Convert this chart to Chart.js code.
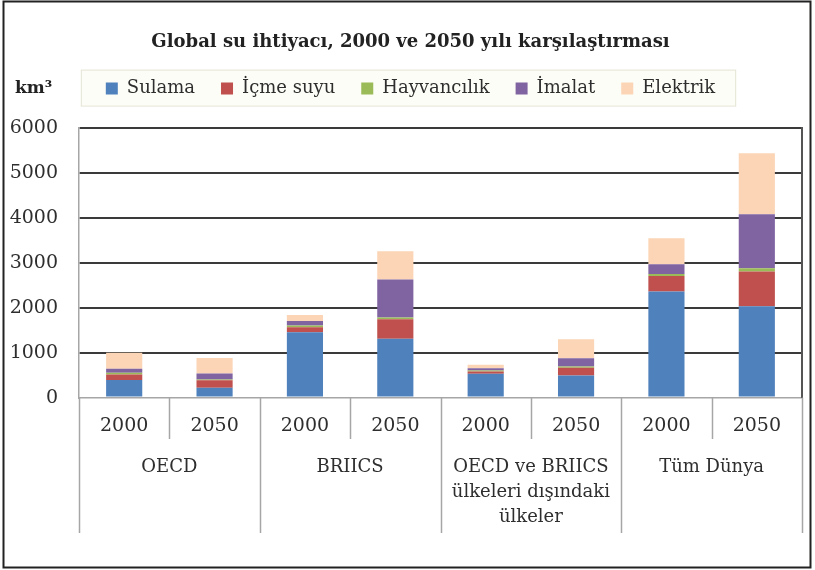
<!DOCTYPE html>
<html>
<head>
<meta charset="utf-8">
<script src="https://cdn.jsdelivr.net/npm/chart.js@4"></script>
<style>
  html, body { margin: 0; padding: 0; background: #fff; }
  #chart_div { display: block; }
</style>
</head>
<body>
<canvas id="chart_div" width="815" height="570"></canvas>
<script>
// categories
var years = ['2000', '2050', '2000', '2050', '2000', '2050', '2000', '2050'];
var groups = ['OECD', 'BRIICS', ['OECD ve BRIICS', 'ülkeleri dışındaki', 'ülkeler'], 'Tüm Dünya'];

// km3
var sulama      = [390, 220, 1450, 1310, 530, 490, 2360, 2030];
var icmeSuyu    = [125, 165, 115, 430, 50, 175, 345, 770];
var hayvancilik = [35, 20, 35, 40, 25, 25, 40, 75];
var imalat      = [90, 133, 105, 845, 50, 185, 220, 1200];
var elektrik    = [355, 340, 130, 630, 75, 420, 575, 1355];

var yTicks = [0, 1000, 2000, 3000, 4000, 5000, 6000];

var serif = 'DejaVu Serif';
var textColor = '#2e2e2e';
var sepColor = '#a6a6a6';

// frame, legend box, km3 label and the category separators
var decorations = {
    id: 'decorations',
    beforeDraw: (chart) => {
        var ctx = chart.ctx,
            boxes = chart.legend.legendHitBoxes,
            first = boxes[0],
            last = boxes[boxes.length - 1],
            mid = first.top + first.height / 2;

        ctx.save();
        ctx.fillStyle = '#fdfdf7';
        ctx.strokeStyle = '#e4e4d4';
        ctx.lineWidth = 1;
        var l = first.left - 25, r = last.left + last.width + 20;
        ctx.fillRect(l, mid - 19, r - l, 36);
        ctx.strokeRect(l + 0.5, mid - 18.5, r - l, 36);

        ctx.fillStyle = '#222';
        ctx.font = 'bold 17px "' + serif + '"';
        ctx.textBaseline = 'middle';
        ctx.textAlign = 'left';
        ctx.fillText('km³', 15, mid);
        ctx.restore();
    },
    afterDraw: (chart) => {
        var ctx = chart.ctx,
            xs = chart.scales.x,
            top = chart.chartArea.bottom,
            step = (xs.right - xs.left) / years.length;

        ctx.save();
        ctx.strokeStyle = sepColor;
        ctx.lineWidth = 1.5;
        for (var i = 0; i <= years.length; i++) {
            var px = Math.round(xs.left + i * step) + 0.5;
            ctx.beginPath();
            ctx.moveTo(px, top);
            ctx.lineTo(px, i % 2 === 0 ? 533 : 439);
            ctx.stroke();
        }

        ctx.strokeStyle = '#222';
        ctx.lineWidth = 2;
        ctx.strokeRect(3.5, 1.5, 807, 566);
        ctx.restore();
    }
};

function makeSet(label, data, color) {
    return {
        label: label,
        data: data,
        xAxisID: 'x',
        yAxisID: 'y',
        backgroundColor: color,
        borderWidth: 0,
        categoryPercentage: 0.8,
        barPercentage: 0.5
    };
}

new Chart(document.getElementById('chart_div'), {
    type: 'bar',
    data: {
        labels: years,
        datasets: [
            makeSet('Sulama', sulama, '#4f81bd'),
            makeSet('İçme suyu', icmeSuyu, '#c0504d'),
            makeSet('Hayvancılık', hayvancilik, '#9bbb59'),
            makeSet('İmalat', imalat, '#8064a2'),
            makeSet('Elektrik', elektrik, '#fbd5b5')
        ]
    },
    options: {
        responsive: false,
        devicePixelRatio: 1,
        animation: false,
        layout: { padding: { left: 7, right: 1, top: 0, bottom: 40 } },
        plugins: {
            title: {
                display: true,
                text: 'Global su ihtiyacı, 2000 ve 2050 yılı karşılaştırması',
                color: '#222',
                font: { family: serif, size: 18, weight: 'bold' },
                padding: { top: 32, bottom: 0 }
            },
            legend: {
                position: 'top',
                labels: {
                    boxWidth: 12,
                    boxHeight: 12,
                    padding: 26,
                    color: textColor,
                    font: { family: serif, size: 18 }
                }
            },
            tooltip: { enabled: false }
        },
        scales: {
            x: {
                stacked: true,
                position: 'bottom',
                grid: { display: false, drawTicks: false },
                border: { display: true, color: sepColor, width: 1.5 },
                ticks: {
                    autoSkip: false,
                    maxRotation: 0,
                    padding: 17,
                    color: textColor,
                    font: { family: serif, size: 19 }
                }
            },
            x2: {
                type: 'category',
                labels: groups,
                position: 'bottom',
                offset: true,
                grid: { display: false, drawTicks: false },
                border: { display: false },
                ticks: {
                    autoSkip: false,
                    maxRotation: 0,
                    padding: 0,
                    color: textColor,
                    font: { family: serif, size: 18, lineHeight: 1.4 }
                }
            },
            spacer: {
                type: 'category',
                position: 'top',
                afterFit: (scale) => { scale.height = 20; },
                grid: { display: false, drawTicks: false },
                border: { display: false },
                ticks: { display: false }
            },
            y: {
                stacked: true,
                min: yTicks[0],
                max: yTicks[yTicks.length - 1],
                afterFit: (scale) => { scale.width = 72; },
                afterBuildTicks: (scale) => {
                    scale.ticks = yTicks.map((v) => ({ value: v }));
                },
                grid: {
                    drawTicks: false,
                    color: (c) => c.tick && c.tick.value === 0 ? 'rgba(0,0,0,0)' : '#3a3a3a',
                    lineWidth: 2
                },
                border: { display: true, color: sepColor, width: 1.5 },
                ticks: {
                    padding: 21,
                    color: textColor,
                    font: { family: serif, size: 19 },
                    callback: (v) => String(v)
                }
            },
            y2: {
                position: 'right',
                afterFit: (scale) => { scale.width = 12; },
                grid: { drawOnChartArea: false, drawTicks: false },
                border: { display: true, color: '#555', width: 2 },
                ticks: { display: false }
            }
        }
    },
    plugins: [decorations]
});
</script>
</body>
</html>
